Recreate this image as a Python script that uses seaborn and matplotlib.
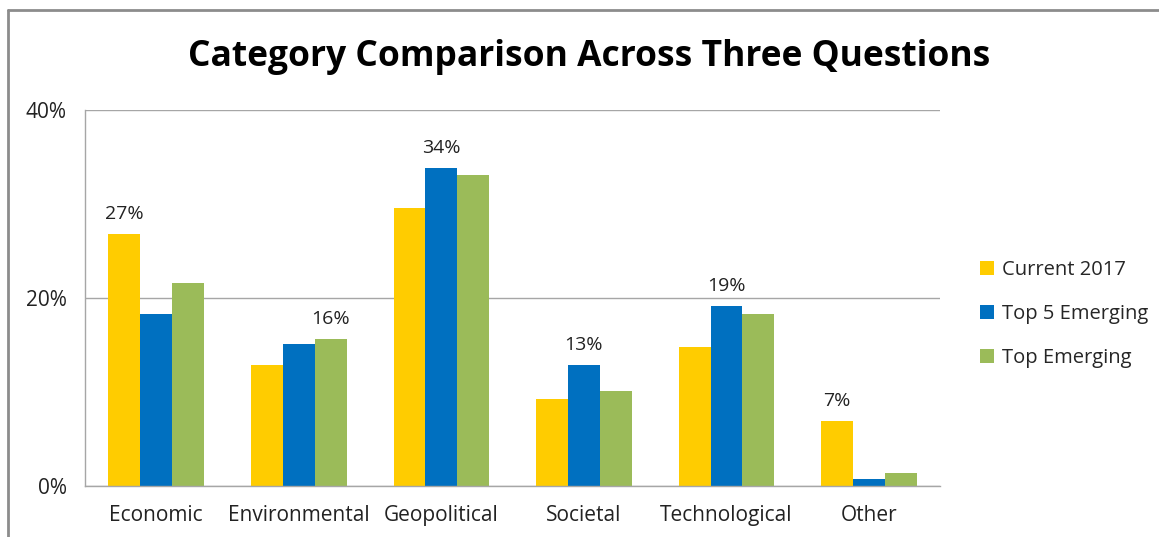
import pandas as pd
import matplotlib.pyplot as plt
import seaborn as sns
from matplotlib.lines import Line2D
from matplotlib.ticker import PercentFormatter, FixedLocator

# data (percent)
categories = ["Economic", "Environmental", "Geopolitical", "Societal", "Technological", "Other"]
current_2017 = [26.8, 12.9, 29.6, 9.3, 14.8, 6.9]
top5_emerging = [18.3, 15.1, 33.8, 12.9, 19.1, 0.7]
top_emerging = [21.6, 15.6, 33.1, 10.1, 18.3, 1.4]
series_names = ["Current 2017", "Top 5 Emerging", "Top Emerging"]
colors = ["#FFCC00", "#0070C0", "#9BBB59"]

df = pd.DataFrame({"category": categories,
                   series_names[0]: current_2017,
                   series_names[1]: top5_emerging,
                   series_names[2]: top_emerging})
long_df = df.melt(id_vars="category", var_name="series", value_name="value")

sns.set_style("white")
plt.rcParams['font.family'] = ['Open Sans', 'DejaVu Sans']

fig = plt.figure(figsize=(11.59, 5.37), dpi=100)
ax = fig.add_axes([0.0733, 0.095, 0.738, 0.70])

sns.barplot(data=long_df, x="category", y="value", hue="series",
            palette=colors, width=0.67, saturation=1, linewidth=0,
            ax=ax, legend=True)

ax.set_ylim(0, 40)
ax.set_xlim(-0.5, 5.5)
ax.yaxis.set_major_locator(FixedLocator([0, 20, 40]))
ax.yaxis.set_major_formatter(PercentFormatter(decimals=0))
ax.grid(axis="y", color="#A6A6A6", linewidth=1)
ax.set_axisbelow(True)
ax.set_xlabel("")
ax.set_ylabel("")

for side in ["top", "right"]:
    ax.spines[side].set_visible(False)
for side in ["left", "bottom"]:
    ax.spines[side].set_color("#A6A6A6")
    ax.spines[side].set_linewidth(1)

ax.tick_params(axis="y", length=7, color="#A6A6A6", labelsize=15, labelcolor="#222222", pad=6)
ax.tick_params(axis="x", which="major", length=0, labelsize=15, labelcolor="#222222", pad=14)
ax.xaxis.set_minor_locator(FixedLocator([i - 0.5 for i in range(len(categories) + 1)]))
ax.tick_params(axis="x", which="minor", length=7, color="#A6A6A6", width=1)

# label only the largest bar of each category
group_max = df[series_names].max(axis=1).tolist()
for cont in ax.containers:
    vals = [b.get_height() for b in cont]
    labels = [f"{v:.0f}%" if abs(v - m) < 1e-9 else "" for v, m in zip(vals, group_max)]
    ax.bar_label(cont, labels=labels, padding=8, fontsize=14, color="#222222")

handles, labels = ax.get_legend_handles_labels()
ax.legend_.remove()
fig.legend(handles, labels, loc="center left", bbox_to_anchor=(0.83, 0.415),
           frameon=False, fontsize=14.5, handlelength=0.7, handleheight=0.7,
           handletextpad=0.4, labelspacing=1.2)

fig.suptitle("Category Comparison Across Three Questions", x=0.508, y=0.893,
             va="center", fontsize=25.5, fontweight="bold", color="black")

# outer chart border (top and left visible in the crop)
fig.add_artist(Line2D([0.007, 0.007], [0, 0.981], color="#8C8C8C", linewidth=2))
fig.add_artist(Line2D([0.007, 1.0], [0.981, 0.981], color="#8C8C8C", linewidth=2))

plt.savefig("out.png", dpi=100)
